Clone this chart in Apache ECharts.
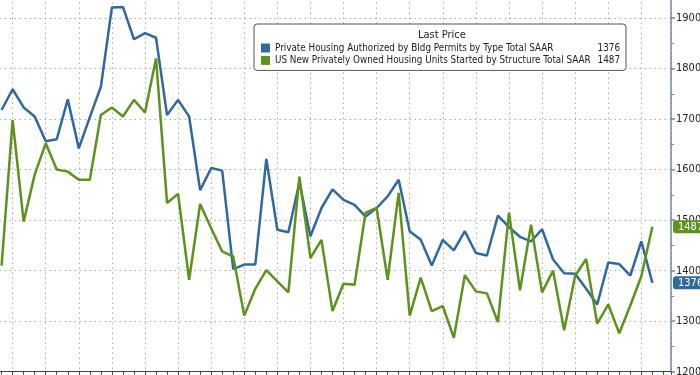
<!DOCTYPE html>
<html>
<head>
<meta charset="utf-8">
<script src="https://cdn.jsdelivr.net/npm/echarts@6/dist/echarts.min.js"></script>
<style>
  html, body { margin: 0; padding: 0; background: #fff; }
  #chart { width: 700px; height: 375px; }
</style>
</head>
<body>
<div id="chart"></div>
<script>
// monthly readings, thousands of units (SAAR)
const permits = [
  1718, 1759, 1723, 1705, 1656, 1660, 1739, 1642, 1704, 1764,
  1921, 1922, 1858, 1870, 1861, 1708, 1738, 1705, 1559, 1603,
  1598, 1403, 1412, 1412, 1621, 1481, 1476, 1575, 1468, 1524,
  1561, 1540, 1530, 1507, 1524, 1547, 1580, 1478, 1461, 1410,
  1461, 1440, 1478, 1435, 1430, 1509, 1486, 1467, 1458, 1482,
  1422, 1395, 1394, 1364, 1333, 1416, 1413, 1390, 1458, 1376
];
const starts = [
  1410, 1698, 1497, 1590, 1652, 1600, 1596, 1580, 1580, 1708,
  1723, 1705, 1738, 1713, 1820, 1534, 1552, 1382, 1532, 1484,
  1438, 1428, 1311, 1364, 1401, 1379, 1357, 1586, 1425, 1461,
  1320, 1374, 1372, 1515, 1524, 1382, 1554, 1311, 1386, 1320,
  1330, 1267, 1391, 1359, 1355, 1298, 1515, 1361, 1491, 1357,
  1400, 1282, 1390, 1423, 1295, 1333, 1276, 1331, 1389, 1487
];
const seriesNames = [
  'Private Housing Authorized by Bldg Permits by Type Total SAAR',
  'US New Privately Owned Housing Units Started by Structure Total SAAR'
];
const colors = ['#31689f', '#5d921c'];
const font = '"Liberation Sans Narrow", "DejaVu Sans Condensed", sans-serif';

const lastVals = [permits[permits.length - 1], starts[starts.length - 1]];
const toPairs = arr => arr.map((v, i) => [i, v]);

const dotted = { color: '#aaaaaa', width: 1, type: [1.5, 3.5] };

function makeSeries(idx, values) {
  return {
    name: seriesNames[idx],
    type: 'line',
    data: toPairs(values),
    symbol: 'none',
    color: colors[idx],
    lineStyle: { width: 2.5, color: colors[idx] },
    markLine: {
      silent: true,
      symbol: 'none',
      lineStyle: { width: 0, color: 'rgba(0,0,0,0)' },
      data: [{ yAxis: lastVals[idx] }],
      label: {
        show: true,
        position: 'end',
        distance: 2,
        formatter: String(lastVals[idx]),
        color: '#fff',
        fontFamily: font,
        fontSize: 11,
        backgroundColor: colors[idx],
        borderRadius: 3,
        padding: [1, 6, 1, 5]
      }
    }
  };
}

const chart = echarts.init(document.getElementById('chart'));
chart.setOption({
  animation: false,
  backgroundColor: '#fff',
  title: {
    text: 'Last Price',
    left: 418,
    top: 30,
    textStyle: { fontFamily: font, fontSize: 11, fontWeight: 'normal', color: '#222' },
    padding: 0
  },
  legend: {
    orient: 'vertical',
    left: 254,
    top: 24,
    padding: [18, 6, 4, 7],
    itemGap: 0.4,
    itemWidth: 9,
    itemHeight: 9,
    icon: 'rect',
    backgroundColor: '#fff',
    borderColor: '#555',
    borderWidth: 1,
    borderRadius: 3,
    textStyle: {
      fontFamily: font,
      fontSize: 9.8,
      color: '#222',
      lineHeight: 12,
      rich: {
        n: { width: 320, fontFamily: font, fontSize: 9.8, color: '#222' },
        v: { width: 25, align: 'right', fontFamily: font, fontSize: 9.8, color: '#222' }
      }
    },
    formatter: name => '{n|' + name + '}{v|' + lastVals[seriesNames.indexOf(name)] + '}',
    data: seriesNames
  },
  grid: { left: -20.46, right: 29, top: -32.5, bottom: 3.3, outerBoundsMode: 'none' },
  xAxis: {
    type: 'value',
    min: -2,
    max: 60.69,
    interval: 3,
    axisLine: { show: true, onZero: false, lineStyle: { color: '#444', width: 1 } },
    axisTick: { show: true, length: 3, lineStyle: { color: '#444' } },
    minorTick: { show: true, splitNumber: 3, length: 3, lineStyle: { color: '#444' } },
    axisLabel: { show: false },
    splitLine: { show: true, lineStyle: dotted }
  },
  yAxis: {
    type: 'value',
    position: 'right',
    min: 1200,
    max: 2000,
    interval: 100,
    axisLine: { show: true, onZero: false, lineStyle: { color: '#6f8ba5', width: 1.5 } },
    axisTick: { show: true, length: 4, lineStyle: { color: '#6f8ba5', width: 1.5 } },
    minorTick: { show: true, splitNumber: 2, length: 3, lineStyle: { color: '#6f8ba5' } },
    axisLabel: { margin: 5, color: '#222', fontFamily: font, fontSize: 11, formatter: v => String(v) },
    splitLine: { show: true, lineStyle: dotted }
  },
  series: [makeSeries(0, permits), makeSeries(1, starts)]
});
</script>
</body>
</html>
